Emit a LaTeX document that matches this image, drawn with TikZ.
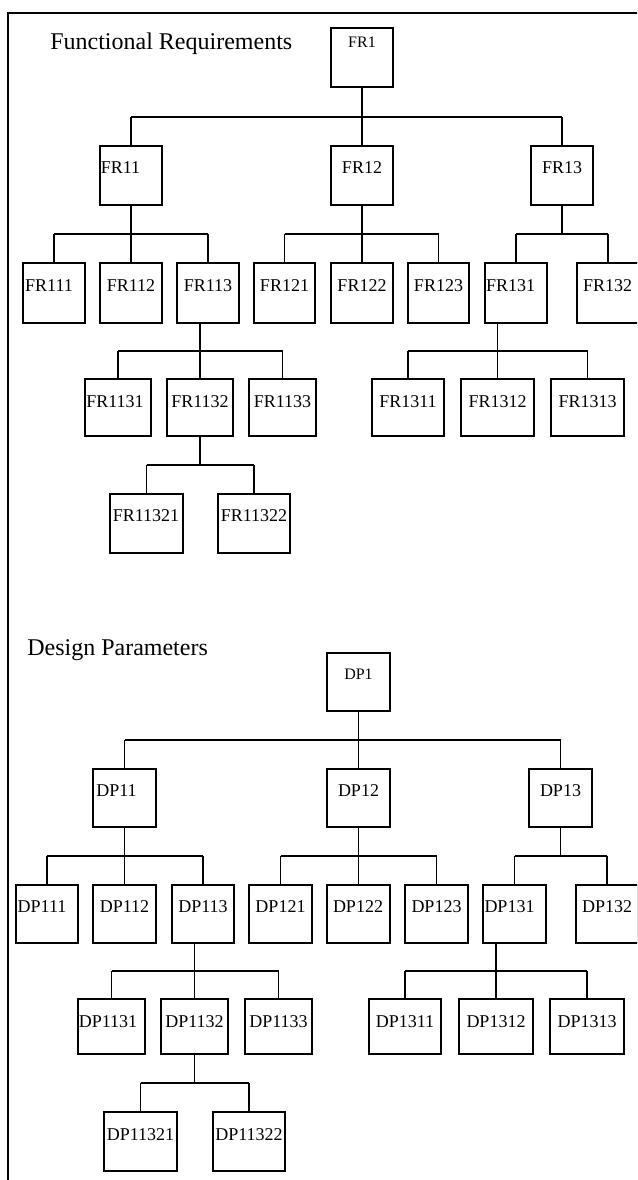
\documentclass[tikz,border=0pt]{standalone}
\usepackage{fontspec}
\setmainfont{Liberation Serif}
\newcommand\bx[7]{%
  \node[box, minimum width={(#4-#2)*0.75pt}, minimum height={(#5-#3)*0.75pt}] (#1) at ({(#2+#4)/2},{(#3+#5)/2}) {};
  \node[lbl] (#1t) at (#6,#7) {#1};}
\newcommand\rbx[7]{%
  \node[box, minimum width={(#4-#2)*0.75pt}, minimum height={(#5-#3)*0.75pt}] (#1) at ({(#2+#4)/2},{(#3+#5)/2}) {};
  \node[lbl, font=\fontsize{12}{14}\selectfont] (#1t) at (#6,#7) {#1};}
\begin{document}
\begin{tikzpicture}[x=0.75pt,y=-0.75pt,
  box/.style={draw, line width=1.2pt, inner sep=0pt, fill=white},
  lbl/.style={inner sep=0pt, font=\fontsize{13.5}{15}\selectfont},
  conn/.style={line width=1.2pt},
  title/.style={anchor=base west, inner sep=0pt, font=\fontsize{18}{20}\selectfont}]
\useasboundingbox (0,0) rectangle (637,1180);
\clip (0,0) rectangle (637,1180);
\fill[white] (0,0) rectangle (637,1180);
\draw[line width=1.2pt] (8,1300) -- (8,13) -- (700,13);
\node[title] (t1) at (50,50) {Functional Requirements};
\node[title] (t2) at (27,655) {Design Parameters};
% bus levels
\coordinate (A1) at (0,117);
\coordinate (A2) at (0,234);
\coordinate (A3) at (0,351);
\coordinate (A4) at (0,465);
\coordinate (B1) at (0,740);
\coordinate (B2) at (0,856);
\coordinate (B3) at (0,971);
\coordinate (B4) at (0,1083);
% FR boxes
\rbx{FR1}{331}{28}{393}{87}{362}{42}
\bx{FR11}{100}{146}{162}{205}{120.5}{168}
\bx{FR12}{331}{146}{393}{205}{362}{168}
\bx{FR13}{531}{146}{593}{205}{562}{168}
\bx{FR111}{23}{263}{85}{323}{49}{286}
\bx{FR112}{100}{263}{162}{323}{131}{286}
\bx{FR113}{177}{263}{239}{323}{208}{286}
\bx{FR121}{254}{263}{315}{323}{284.5}{286}
\bx{FR122}{331}{263}{393}{323}{362}{286}
\bx{FR123}{408}{263}{469}{323}{438.5}{286}
\bx{FR131}{485}{263}{547}{323}{510.5}{286}
\bx{FR132}{577}{263}{639}{323}{607.5}{286}
\bx{FR1131}{85}{379}{151}{436}{115}{402}
\bx{FR1132}{167}{379}{233}{436}{200}{402}
\bx{FR1133}{249}{379}{316}{436}{282.5}{402}
\bx{FR1311}{372}{379}{444}{436}{408}{402}
\bx{FR1312}{461}{379}{534}{436}{497.5}{402}
\bx{FR1313}{551}{379}{624}{436}{587.5}{402}
\bx{FR11321}{110}{494}{183}{553}{146}{516}
\bx{FR11322}{218}{494}{290}{553}{254}{516}
% DP boxes
\rbx{DP1}{327}{653}{390}{711}{358.5}{674}
\bx{DP11}{93}{769}{156}{827}{116.5}{791}
\bx{DP12}{327}{769}{390}{827}{358.5}{791}
\bx{DP13}{529}{769}{592}{827}{560.5}{791}
\bx{DP111}{16}{885}{78}{943}{42}{907}
\bx{DP112}{93}{885}{156}{943}{124.5}{907}
\bx{DP113}{172}{885}{234}{943}{203}{907}
\bx{DP121}{249}{885}{312}{943}{280.5}{907}
\bx{DP122}{327}{885}{390}{943}{358}{907}
\bx{DP123}{405}{885}{468}{943}{436.5}{907}
\bx{DP131}{483}{885}{546}{943}{509.5}{907}
\bx{DP132}{576}{885}{638}{943}{607}{907}
\bx{DP1131}{78}{999}{145}{1054}{108}{1022}
\bx{DP1132}{161}{999}{228}{1054}{194.5}{1022}
\bx{DP1133}{245}{999}{312}{1054}{278.5}{1022}
\bx{DP1311}{369}{999}{441}{1054}{405}{1022}
\bx{DP1312}{459}{999}{533}{1054}{496}{1022}
\bx{DP1313}{550}{999}{624}{1054}{587}{1022}
\bx{DP11321}{104}{1112}{177}{1171}{140.5}{1135}
\bx{DP11322}{213}{1112}{285}{1171}{249}{1135}
% FR connectors
\draw[conn] (FR1.south) -- (FR1.south |- A1);
\draw[conn] (FR11.north |- A1) -- (FR13.north |- A1);
\foreach \c in {FR11,FR12,FR13} \draw[conn] (\c.north |- A1) -- (\c.north);
\draw[conn] (FR11.south -| FR112.north) -- (FR112.north |- A2);
\draw[conn] (FR111.north |- A2) -- (FR113.north |- A2);
\foreach \c in {FR111,FR112,FR113} \draw[conn] (\c.north |- A2) -- (\c.north);
\draw[conn] (FR12.south) -- (FR12.south |- A2);
\draw[conn] (FR121.north |- A2) -- (FR123.north |- A2);
\foreach \c in {FR121,FR122,FR123} \draw[conn] (\c.north |- A2) -- (\c.north);
\draw[conn] (FR13.south) -- (FR13.south |- A2);
\draw[conn] (FR131.north |- A2) -- (FR132.north |- A2);
\foreach \c in {FR131,FR132} \draw[conn] (\c.north |- A2) -- (\c.north);
\draw[conn] (FR113.south -| FR1132.north) -- (FR1132.north |- A3);
\draw[conn] (FR1131.north |- A3) -- (FR1133.north |- A3);
\foreach \c in {FR1131,FR1132,FR1133} \draw[conn] (\c.north |- A3) -- (\c.north);
\draw[conn] (FR131.south -| FR1312.north) -- (FR1312.north |- A3);
\draw[conn] (FR1311.north |- A3) -- (FR1313.north |- A3);
\foreach \c in {FR1311,FR1312,FR1313} \draw[conn] (\c.north |- A3) -- (\c.north);
\draw[conn] (FR1132.south) -- (FR1132.south |- A4);
\draw[conn] (FR11321.north |- A4) -- (FR11322.north |- A4);
\foreach \c in {FR11321,FR11322} \draw[conn] (\c.north |- A4) -- (\c.north);
% DP connectors
\draw[conn] (DP1.south) -- (DP1.south |- B1);
\draw[conn] (DP11.north |- B1) -- (DP13.north |- B1);
\foreach \c in {DP11,DP12,DP13} \draw[conn] (\c.north |- B1) -- (\c.north);
\draw[conn] (DP11.south -| DP112.north) -- (DP112.north |- B2);
\draw[conn] (DP111.north |- B2) -- (DP113.north |- B2);
\foreach \c in {DP111,DP112,DP113} \draw[conn] (\c.north |- B2) -- (\c.north);
\draw[conn] (DP12.south) -- (DP12.south |- B2);
\draw[conn] (DP121.north |- B2) -- (DP123.north |- B2);
\foreach \c in {DP121,DP122,DP123} \draw[conn] (\c.north |- B2) -- (\c.north);
\draw[conn] (DP13.south) -- (DP13.south |- B2);
\draw[conn] (DP131.north |- B2) -- (DP132.north |- B2);
\foreach \c in {DP131,DP132} \draw[conn] (\c.north |- B2) -- (\c.north);
\draw[conn] (DP113.south -| DP1132.north) -- (DP1132.north |- B3);
\draw[conn] (DP1131.north |- B3) -- (DP1133.north |- B3);
\foreach \c in {DP1131,DP1132,DP1133} \draw[conn] (\c.north |- B3) -- (\c.north);
\draw[conn] (DP131.south -| DP1312.north) -- (DP1312.north |- B3);
\draw[conn] (DP1311.north |- B3) -- (DP1313.north |- B3);
\foreach \c in {DP1311,DP1312,DP1313} \draw[conn] (\c.north |- B3) -- (\c.north);
\draw[conn] (DP1132.south) -- (DP1132.south |- B4);
\draw[conn] (DP11321.north |- B4) -- (DP11322.north |- B4);
\foreach \c in {DP11321,DP11322} \draw[conn] (\c.north |- B4) -- (\c.north);
\end{tikzpicture}
\end{document}
